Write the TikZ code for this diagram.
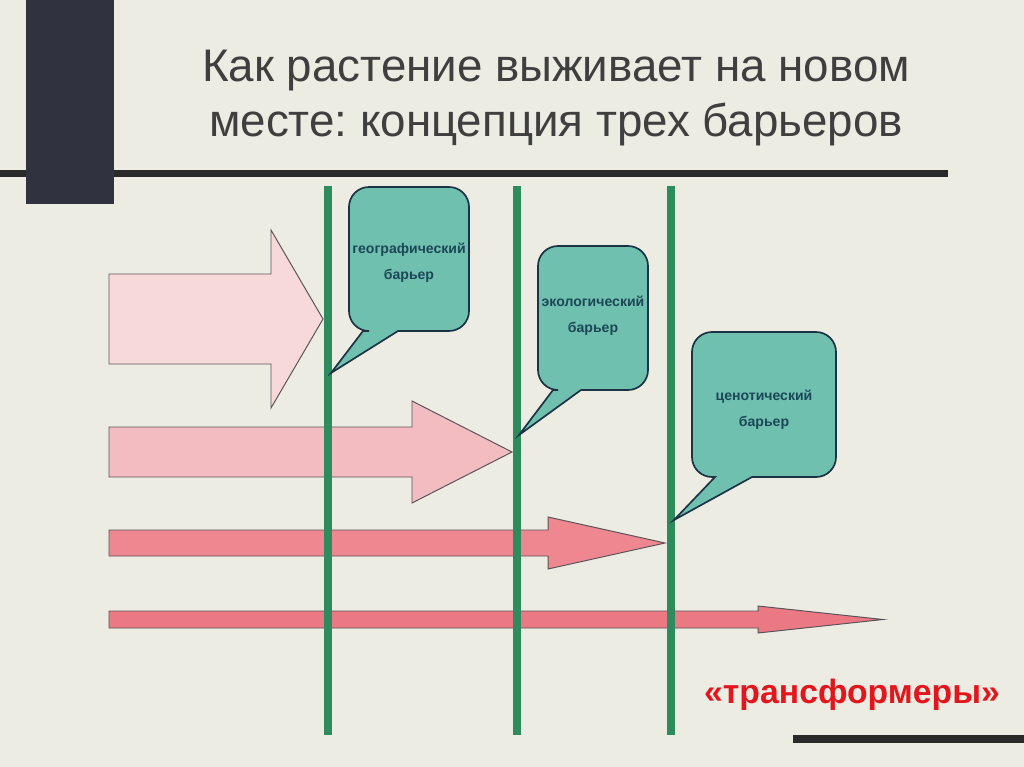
\documentclass[tikz,border=0pt]{standalone}
\usepackage{fontspec}
\setmainfont{Liberation Sans}
\usetikzlibrary{positioning}
\frenchspacing

\definecolor{slidebg}{HTML}{EDECE3}
\definecolor{barnavy}{HTML}{30323F}
\definecolor{rulegray}{HTML}{2A2A2A}
\definecolor{limitgreen}{HTML}{2E8B5E}
\definecolor{callfill}{HTML}{70C0B0}
\definecolor{callline}{HTML}{1B3344}
\definecolor{calltext}{HTML}{1C4756}
\definecolor{pinkA}{HTML}{F8D9D9}
\definecolor{pinkB}{HTML}{F3BCC1}
\definecolor{pinkC}{HTML}{EF8790}
\definecolor{pinkD}{HTML}{EA7983}
\definecolor{arrowline}{HTML}{5A5458}
\definecolor{transred}{HTML}{E3161D}

% block arrow: fill, tail x, head x, tip x, mid y, half shaft, half head
\newcommand{\blockarrow}[7]{%
  \filldraw[blockarr, fill=#1] (#2,#5-#6) -- (#3,#5-#6) -- (#3,#5-#7) -- (#4,#5)
    -- (#3,#5+#7) -- (#3,#5+#6) -- (#2,#5+#6) -- cycle;}

% speech box: left, top, right, bottom, tail left, tail right, tip
\newcommand{\barrierbox}[7]{%
  \filldraw[callbox, rounded corners=5mm] ({(#1+#3)/2},#2) -- (#3,#2) -- (#3,#4)
    [sharp corners] -- (#6,#4) -- (#7) -- (#5,#4)
    [rounded corners=5mm] -- (#1,#4) -- (#1,#2) -- cycle;}

\begin{document}
\begin{tikzpicture}[
    x=0.025cm, y=-0.025cm,
    blockarr/.style={draw=arrowline, line width=0.7pt, line join=miter},
    limit/.style={draw=limitgreen, line width=6.2pt},
    callbox/.style={draw=callline, fill=callfill, line width=1.2pt},
    calllabel/.style={text=calltext, align=center, font=\fontsize{10}{18.5}\selectfont\bfseries},
    heading/.style={text=rulegray!90, anchor=base, font=\fontsize{32.5}{38}\selectfont},
]
    \useasboundingbox (0,0) rectangle (1024,767);
    \fill[slidebg] (0,0) rectangle (1024,767);

    % frame of the slide
    \fill[rulegray] (0,170) rectangle (948,177);
    \fill[barnavy] (26,0) rectangle (114,204);
    \fill[rulegray] (793,735) rectangle (1024,743);

    % title
    \node (title1) [heading] at (556,82) {Как растение выживает на новом};
    \node (title2) [heading] at (556,137) {месте: концепция трех барьеров};

    % arrows
    \blockarrow{pinkA}{109}{271}{323}{319}{45}{89}
    \blockarrow{pinkB}{109}{412}{512}{452}{25}{51}
    \blockarrow{pinkC}{109}{548}{665}{543}{13}{26}
    \blockarrow{pinkD}{109}{758}{883}{619.5}{8.5}{13.5}

    % barriers
    \coordinate (geotop) at (328,186);
    \coordinate (geobot) at (328,735);
    \coordinate (ecotop) at (517,186);
    \coordinate (ecobot) at (517,735);
    \coordinate (centop) at (671,186);
    \coordinate (cenbot) at (671,735);
    \draw [limit] (geotop) -- (geobot);
    \draw [limit] (ecotop) -- (ecobot);
    \draw [limit] (centop) -- (cenbot);

    % speech boxes
    \coordinate (geotip) at (331,373);
    \coordinate (ecotip) at (519,435);
    \coordinate (centip) at (674,520);
    \barrierbox{349}{187}{469}{331}{363}{398}{geotip}
    \barrierbox{538}{246}{648}{390}{553}{581}{ecotip}
    \barrierbox{692}{332}{836}{477}{715}{752}{centip}

    \node (geo) [calllabel] at (409,263) {географический\\барьер};
    \node (eco) [calllabel] at (593,316) {экологический\\барьер};
    \node (ceno) [calllabel] at (764,410) {ценотический\\барьер};

    \node (trans) [text=transred, font=\fontsize{24}{28}\selectfont\bfseries] at (852,695) {«трансформеры»};

\end{tikzpicture}
\end{document}
